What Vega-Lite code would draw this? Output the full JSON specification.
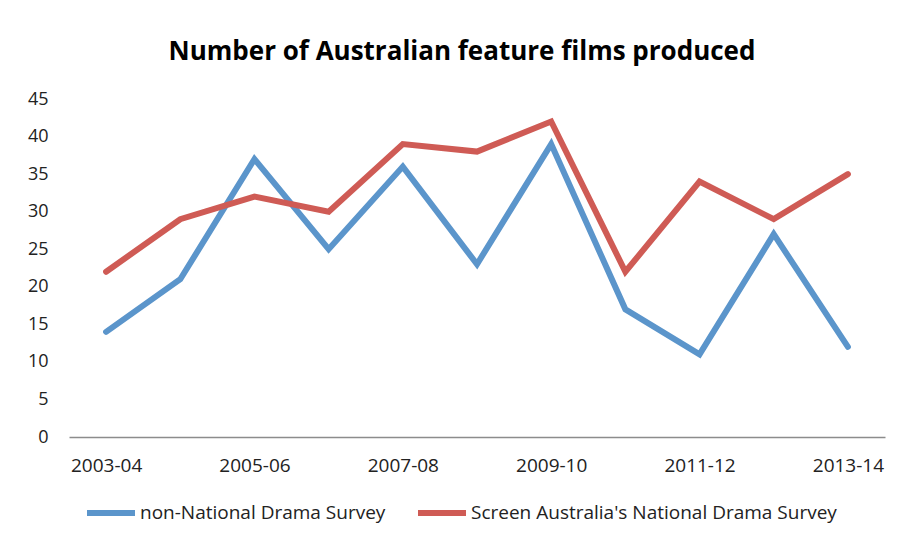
{
  "$schema": "https://vega.github.io/schema/vega-lite/v6.json",
  "width": 816,
  "height": 338,
  "autosize": {"type": "none"},
  "padding": {"left": 69, "top": 99, "right": 18, "bottom": 108},
  "background": "white",
  "title": {
    "text": "Number of Australian feature films produced",
    "font": "Open Sans",
    "fontSize": 26,
    "fontWeight": "bold",
    "color": "#000000",
    "anchor": "middle",
    "dx": -15,
    "offset": 25
  },
  "data": {
    "values": [
      {"year": "2003-04", "series": "non-National Drama Survey", "films": 14},
      {"year": "2004-05", "series": "non-National Drama Survey", "films": 21},
      {"year": "2005-06", "series": "non-National Drama Survey", "films": 37},
      {"year": "2006-07", "series": "non-National Drama Survey", "films": 25},
      {"year": "2007-08", "series": "non-National Drama Survey", "films": 36},
      {"year": "2008-09", "series": "non-National Drama Survey", "films": 23},
      {"year": "2009-10", "series": "non-National Drama Survey", "films": 39},
      {"year": "2010-11", "series": "non-National Drama Survey", "films": 17},
      {"year": "2011-12", "series": "non-National Drama Survey", "films": 11},
      {"year": "2012-13", "series": "non-National Drama Survey", "films": 27},
      {"year": "2013-14", "series": "non-National Drama Survey", "films": 12},
      {"year": "2003-04", "series": "Screen Australia's National Drama Survey", "films": 22},
      {"year": "2004-05", "series": "Screen Australia's National Drama Survey", "films": 29},
      {"year": "2005-06", "series": "Screen Australia's National Drama Survey", "films": 32},
      {"year": "2006-07", "series": "Screen Australia's National Drama Survey", "films": 30},
      {"year": "2007-08", "series": "Screen Australia's National Drama Survey", "films": 39},
      {"year": "2008-09", "series": "Screen Australia's National Drama Survey", "films": 38},
      {"year": "2009-10", "series": "Screen Australia's National Drama Survey", "films": 42},
      {"year": "2010-11", "series": "Screen Australia's National Drama Survey", "films": 22},
      {"year": "2011-12", "series": "Screen Australia's National Drama Survey", "films": 34},
      {"year": "2012-13", "series": "Screen Australia's National Drama Survey", "films": 29},
      {"year": "2013-14", "series": "Screen Australia's National Drama Survey", "films": 35}
    ]
  },
  "mark": {"type": "line", "strokeWidth": 6, "strokeJoin": "miter", "strokeCap": "round"},
  "encoding": {
    "x": {
      "field": "year",
      "type": "ordinal",
      "scale": {"type": "point", "padding": 0.5},
      "axis": {
        "title": null,
        "values": ["2003-04", "2005-06", "2007-08", "2009-10", "2011-12", "2013-14"],
        "labelAngle": 0,
        "ticks": false,
        "domainColor": "#8c8c8c",
        "domainWidth": 1.5,
        "labelPadding": 19,
        "labelFont": "Open Sans",
        "labelFontSize": 19,
        "labelColor": "#222222",
        "grid": false
      }
    },
    "y": {
      "field": "films",
      "type": "quantitative",
      "scale": {"domain": [0, 45], "nice": false},
      "axis": {
        "title": null,
        "values": [0, 5, 10, 15, 20, 25, 30, 35, 40, 45],
        "domain": false,
        "ticks": false,
        "grid": false,
        "labelPadding": 21,
        "labelFont": "Open Sans",
        "labelFontSize": 18,
        "labelColor": "#222222"
      }
    },
    "color": {
      "field": "series",
      "type": "nominal",
      "scale": {
        "domain": ["non-National Drama Survey", "Screen Australia's National Drama Survey"],
        "range": ["#5B95CB", "#CF5B55"]
      },
      "legend": {
        "title": null,
        "orient": "none",
        "direction": "horizontal",
        "legendX": 15,
        "legendY": 387,
        "symbolType": "stroke",
        "symbolStrokeWidth": 6,
        "symbolSize": 2304,
        "labelOffset": 2,
        "columnPadding": 20,
        "labelFont": "Open Sans",
        "labelFontSize": 19,
        "labelColor": "#222222",
        "labelLimit": 0
      }
    }
  },
  "config": {"view": {"stroke": null}}
}
